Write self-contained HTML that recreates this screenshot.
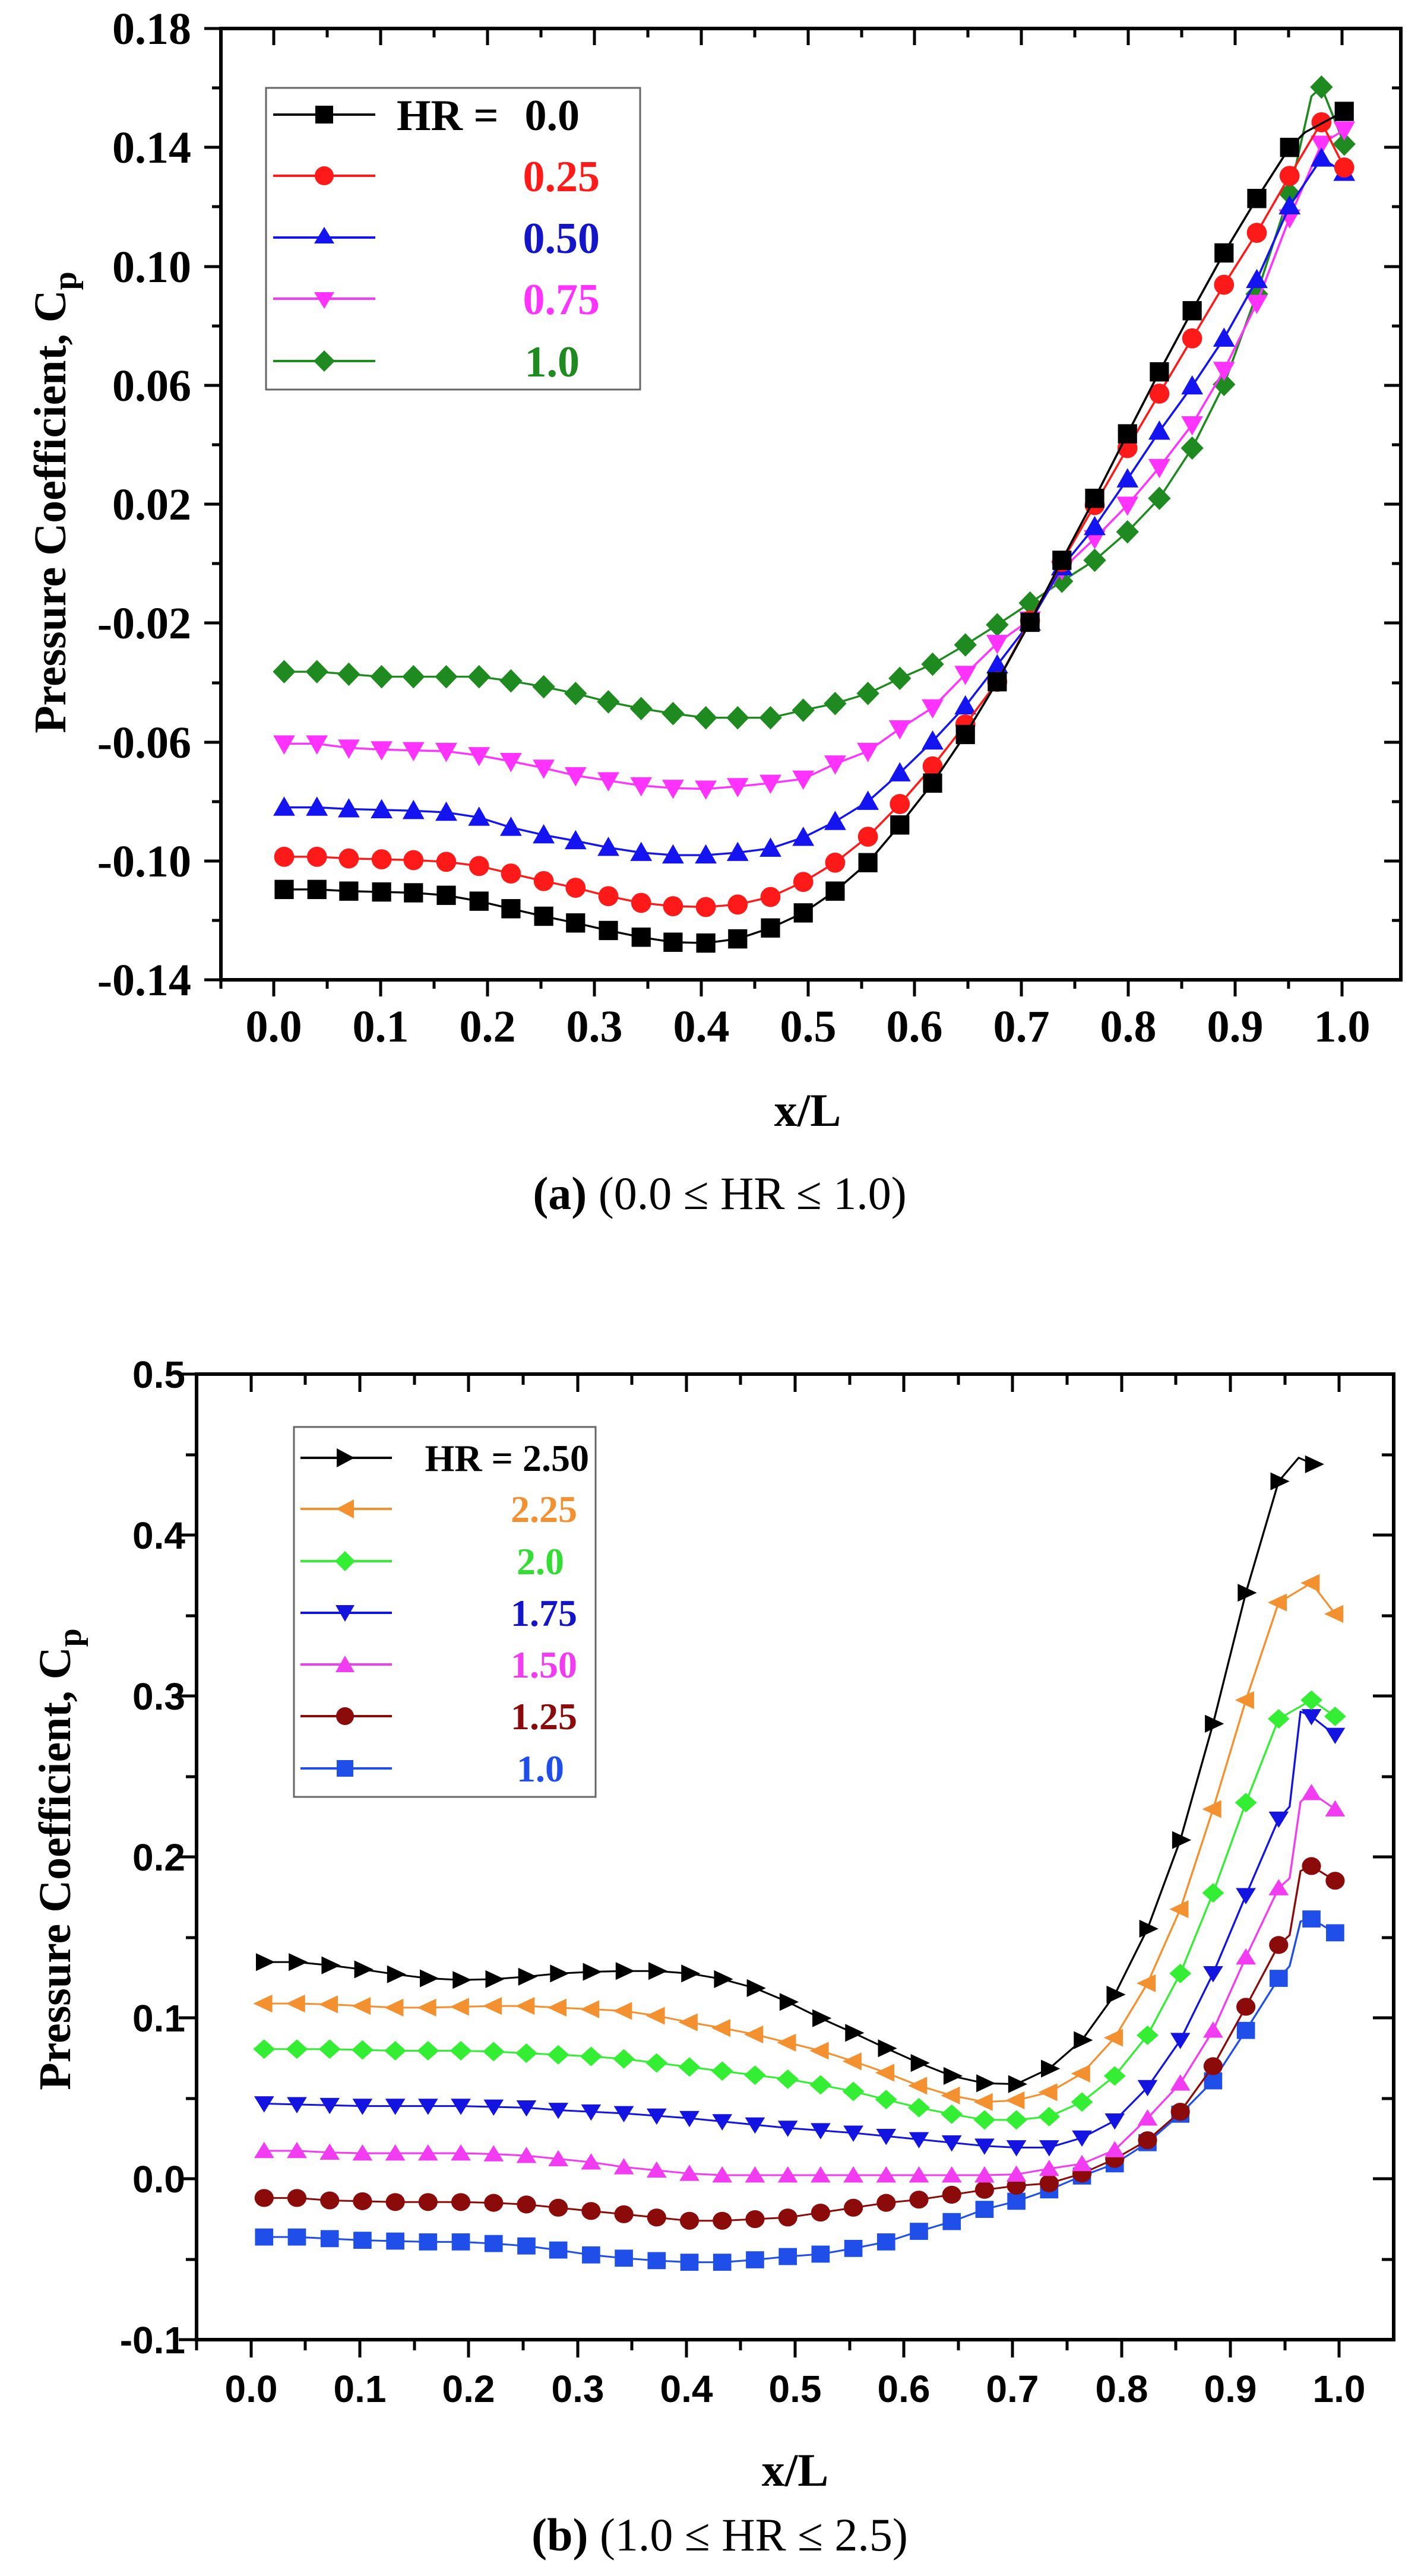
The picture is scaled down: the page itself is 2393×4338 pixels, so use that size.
<!DOCTYPE html>
<html><head><meta charset="utf-8"><style>html,body{margin:0;padding:0;background:#fff}svg{display:block}</style></head>
<body>
<svg xmlns="http://www.w3.org/2000/svg" width="2393" height="4338" viewBox="0 0 2393 4338">
<defs>
<marker id="mSqK" markerUnits="userSpaceOnUse" overflow="visible" markerWidth="1" markerHeight="1"><rect x="-10.5" y="-11.5" width="21" height="23" fill="#000"/></marker>
<marker id="mCiR" markerUnits="userSpaceOnUse" overflow="visible" markerWidth="1" markerHeight="1"><ellipse rx="11" ry="12" fill="#ff1a1a"/></marker>
<marker id="mTuB" markerUnits="userSpaceOnUse" overflow="visible" markerWidth="1" markerHeight="1"><polygon points="0,-13 12,10 -12,10" fill="#1414f0"/></marker>
<marker id="mTdM" markerUnits="userSpaceOnUse" overflow="visible" markerWidth="1" markerHeight="1"><polygon points="0,13 12,-10 -12,-10" fill="#ff33ff"/></marker>
<marker id="mDiG" markerUnits="userSpaceOnUse" overflow="visible" markerWidth="1" markerHeight="1"><polygon points="0,-14 12.5,0 0,14 -12.5,0" fill="#1f8a1f"/></marker>

<marker id="bRK" markerUnits="userSpaceOnUse" overflow="visible" markerWidth="1" markerHeight="1"><polygon points="-9,-11 12,0 -9,11" fill="#000"/></marker>
<marker id="bLO" markerUnits="userSpaceOnUse" overflow="visible" markerWidth="1" markerHeight="1"><polygon points="9,-11 -12,0 9,11" fill="#f39030"/></marker>
<marker id="bDG" markerUnits="userSpaceOnUse" overflow="visible" markerWidth="1" markerHeight="1"><polygon points="0,-12 12,0 0,12 -12,0" fill="#33ee33"/></marker>
<marker id="bTdB" markerUnits="userSpaceOnUse" overflow="visible" markerWidth="1" markerHeight="1"><polygon points="0,11 11,-9 -11,-9" fill="#1414e0"/></marker>
<marker id="bTuM" markerUnits="userSpaceOnUse" overflow="visible" markerWidth="1" markerHeight="1"><polygon points="0,-11 11,9 -11,9" fill="#f23cf2"/></marker>
<marker id="bCiN" markerUnits="userSpaceOnUse" overflow="visible" markerWidth="1" markerHeight="1"><ellipse rx="10.5" ry="11" fill="#8b0a0a"/></marker>
<marker id="bSqB" markerUnits="userSpaceOnUse" overflow="visible" markerWidth="1" markerHeight="1"><rect x="-10" y="-10.5" width="20" height="21" fill="#1f4fe8"/></marker>
</defs>

<!-- ================= PLOT A ================= -->
<rect x="372" y="48" width="1987" height="1602" fill="none" stroke="#000" stroke-width="6"/>
<g stroke="#000" stroke-width="5">
<path d="M461,1650v28M641,1650v28M821,1650v28M1001,1650v28M1181,1650v28M1361,1650v28M1540,1650v28M1720,1650v28M1900,1650v28M2080,1650v28M2260,1650v28"/>
<path d="M551,1650v15M731,1650v15M911,1650v15M1091,1650v15M1271,1650v15M1451,1650v15M1630,1650v15M1810,1650v15M1990,1650v15M2170,1650v15M372,1650v15"/>
<path d="M461,48v28M641,48v28M821,48v28M1001,48v28M1181,48v28M1361,48v28M1540,48v28M1720,48v28M1900,48v28M2080,48v28M2260,48v28"/>
<path d="M551,48v15M731,48v15M911,48v15M1091,48v15M1271,48v15M1451,48v15M1630,48v15M1810,48v15M1990,48v15M2170,48v15"/>
<path d="M372,48h-28M372,248h-28M372,449h-28M372,649h-28M372,849h-28M372,1049h-28M372,1250h-28M372,1450h-28M372,1650h-28"/>
<path d="M372,148h-15M372,348h-15M372,549h-15M372,749h-15M372,949h-15M372,1150h-15M372,1350h-15M372,1550h-15"/>
<path d="M2359,248h-28M2359,449h-28M2359,649h-28M2359,849h-28M2359,1049h-28M2359,1250h-28M2359,1450h-28"/>
<path d="M2359,148h-15M2359,348h-15M2359,549h-15M2359,749h-15M2359,949h-15M2359,1150h-15M2359,1350h-15M2359,1550h-15"/>
</g>
<g font-family="Liberation Serif, serif" font-weight="bold" font-size="76" fill="#000">
<g text-anchor="end">
<text x="322" y="74">0.18</text>
<text x="322" y="274">0.14</text>
<text x="322" y="475">0.10</text>
<text x="322" y="675">0.06</text>
<text x="322" y="875">0.02</text>
<text x="322" y="1075">-0.02</text>
<text x="322" y="1276">-0.06</text>
<text x="322" y="1476">-0.10</text>
<text x="322" y="1676">-0.14</text>
</g>
<g text-anchor="middle">
<text x="461" y="1754">0.0</text><text x="641" y="1754">0.1</text><text x="821" y="1754">0.2</text><text x="1001" y="1754">0.3</text><text x="1181" y="1754">0.4</text><text x="1361" y="1754">0.5</text><text x="1540" y="1754">0.6</text><text x="1720" y="1754">0.7</text><text x="1900" y="1754">0.8</text><text x="2080" y="1754">0.9</text><text x="2260" y="1754">1.0</text>
<text x="1360" y="1896" font-size="78">x/L</text>
</g>
<text transform="translate(110,846) rotate(-90)" text-anchor="middle" font-size="76">Pressure Coefficient, C<tspan dy="18" font-size="56">p</tspan></text>
</g>
<text x="1212" y="2036" text-anchor="middle" font-family="Liberation Serif, serif" font-size="78" fill="#000"><tspan font-weight="bold">(a)</tspan> (0.0 ≤ HR ≤ 1.0)</text>

<g transform="scale(1.5337,1.4104)" fill="none" stroke-width="2.4" stroke-linejoin="round">
<polyline stroke="#1f8a1f" points="312,802 348,802 383,805 419,808 454,808 490,808 526,808 561,813 597,820 632,828 668,838 704,846 739,852 775,857 810,857 846,857 882,848 917,840 953,828 988,810 1024,793 1060,770 1095,746 1131,720 1166,694 1202,669 1238,635 1273,595 1309,535 1344,459 1380,351 1416,231 1440,115 1451,104 1476,172"/>
<polyline stroke="none" marker-start="url(#mDiG)" marker-mid="url(#mDiG)" marker-end="url(#mDiG)" points="312,802 348,802 383,805 419,808 454,808 490,808 526,808 561,813 597,820 632,828 668,838 704,846 739,852 775,857 810,857 846,857 882,848 917,840 953,828 988,810 1024,793 1060,770 1095,746 1131,720 1166,694 1202,669 1238,635 1273,595 1309,535 1344,459 1380,351 1416,231 1451,104 1476,172"/>
<polyline stroke="#ff33ff" marker-start="url(#mTdM)" marker-mid="url(#mTdM)" marker-end="url(#mTdM)" points="312,888 348,888 383,893 419,895 454,896 490,897 526,902 561,909 597,917 632,926 668,932 704,938 739,941 775,942 810,939 846,935 882,930 917,912 953,897 988,870 1024,845 1060,805 1095,768 1131,740 1166,680 1202,643 1238,603 1273,558 1309,507 1344,442 1380,362 1416,260 1451,172 1476,155"/>
<polyline stroke="#1414f0" marker-start="url(#mTuB)" marker-mid="url(#mTuB)" marker-end="url(#mTuB)" points="312,964 348,964 383,966 419,967 454,968 490,970 526,976 561,988 597,997 632,1004 668,1012 704,1018 739,1021 775,1021 810,1018 846,1013 882,1000 917,981 953,957 988,923 1024,885 1060,843 1095,794 1131,743 1166,677 1202,629 1238,572 1273,515 1309,461 1344,404 1380,334 1416,246 1451,189 1476,206"/>
<polyline stroke="#ff1a1a" marker-start="url(#mCiR)" marker-mid="url(#mCiR)" marker-end="url(#mCiR)" points="312,1023 348,1023 383,1025 419,1026 454,1027 490,1029 526,1034 561,1043 597,1052 632,1060 668,1070 704,1078 739,1082 775,1083 810,1080 846,1071 882,1053 917,1030 953,999 988,960 1024,915 1060,865 1095,814 1131,741 1166,671 1202,603 1238,535 1273,470 1309,404 1344,340 1380,278 1416,210 1451,146 1476,200"/>
<polyline stroke="#000" points="312,1062 348,1062 383,1064 419,1065 454,1066 490,1069 526,1076 561,1085 597,1094 632,1102 668,1111 704,1119 739,1125 775,1126 810,1121 846,1108 882,1090 917,1064 953,1030 988,985 1024,935 1060,877 1095,814 1131,743 1166,669 1202,595 1238,518 1273,444 1309,371 1344,302 1380,237 1416,176 1433,158 1476,133"/>
<polyline stroke="none" marker-start="url(#mSqK)" marker-mid="url(#mSqK)" marker-end="url(#mSqK)" points="312,1062 348,1062 383,1064 419,1065 454,1066 490,1069 526,1076 561,1085 597,1094 632,1102 668,1111 704,1119 739,1125 775,1126 810,1121 846,1108 882,1090 917,1064 953,1030 988,985 1024,935 1060,877 1095,814 1131,743 1166,669 1202,595 1238,518 1273,444 1309,371 1344,302 1380,237 1416,176 1476,133"/>
</g>

<!-- legend a -->
<rect x="448" y="148" width="630" height="508" fill="#fff" stroke="#666" stroke-width="3"/>
<g stroke-width="4">
<line x1="460" y1="193" x2="632" y2="193" stroke="#000"/><rect x="531" y="178" width="30" height="30" fill="#000"/>
<line x1="460" y1="296" x2="632" y2="296" stroke="#ff1a1a"/><circle cx="546" cy="296" r="16" fill="#ff1a1a"/>
<line x1="460" y1="400" x2="632" y2="400" stroke="#1414f0"/><polygon points="546,382 563,410 529,410" fill="#1414f0"/>
<line x1="460" y1="503" x2="632" y2="503" stroke="#ff33ff"/><polygon points="546,520 563,492 529,492" fill="#ff33ff"/>
<line x1="460" y1="608" x2="632" y2="608" stroke="#1f8a1f"/><polygon points="546,590 564,608 546,626 528,608" fill="#1f8a1f"/>
</g>
<g font-family="Liberation Serif, serif" font-weight="bold" font-size="74">
<text x="668" y="219" fill="#000">HR =</text><text x="976" y="219" text-anchor="end" fill="#000">0.0</text>
<text x="1010" y="322" text-anchor="end" fill="#ff1a1a">0.25</text>
<text x="1010" y="426" text-anchor="end" fill="#1414c8">0.50</text>
<text x="1010" y="529" text-anchor="end" fill="#ff33ff">0.75</text>
<text x="976" y="634" text-anchor="end" fill="#1f8a1f">1.0</text>
</g>

<!-- ================= PLOT B ================= -->
<rect x="331" y="2314" width="2016" height="1626" fill="none" stroke="#000" stroke-width="6"/>
<g stroke="#000" stroke-width="5">
<path d="M423,3940v30M606,3940v30M789,3940v30M973,3940v30M1156,3940v30M1339,3940v30M1522,3940v30M1705,3940v30M1889,3940v30M2072,3940v30M2255,3940v30"/>
<path d="M331,3940v18M514,3940v18M698,3940v18M881,3940v18M1064,3940v18M1247,3940v18M1431,3940v18M1614,3940v18M1797,3940v18M1980,3940v18M2164,3940v18"/>
<path d="M423,2314v30M606,2314v30M789,2314v30M973,2314v30M1156,2314v30M1339,2314v30M1522,2314v30M1705,2314v30M1889,2314v30M2072,2314v30M2255,2314v30"/>
<path d="M514,2314v18M698,2314v18M881,2314v18M1064,2314v18M1247,2314v18M1431,2314v18M1614,2314v18M1797,2314v18M1980,2314v18M2164,2314v18"/>
<path d="M331,2314h-30M331,2585h-30M331,2856h-30M331,3127h-30M331,3398h-30M331,3669h-30M331,3940h-30"/>
<path d="M331,2450h-18M331,2721h-18M331,2992h-18M331,3263h-18M331,3534h-18M331,3805h-18"/>
<path d="M2347,2585h-35M2347,2856h-35M2347,3127h-35M2347,3398h-35M2347,3669h-35"/>
<path d="M2347,2450h-20M2347,2721h-20M2347,2992h-20M2347,3263h-20M2347,3534h-20M2347,3805h-20"/>
</g>
<g font-family="Liberation Sans, Arial, sans-serif" font-weight="bold" font-size="64" fill="#000">
<g text-anchor="end">
<text x="312" y="2337">0.5</text>
<text x="312" y="2608">0.4</text>
<text x="312" y="2879">0.3</text>
<text x="312" y="3150">0.2</text>
<text x="312" y="3421">0.1</text>
<text x="312" y="3692">0.0</text>
<text x="312" y="3963">-0.1</text>
</g>
<g text-anchor="middle">
<text x="423" y="4045">0.0</text><text x="606" y="4045">0.1</text><text x="789" y="4045">0.2</text><text x="973" y="4045">0.3</text><text x="1156" y="4045">0.4</text><text x="1339" y="4045">0.5</text><text x="1522" y="4045">0.6</text><text x="1705" y="4045">0.7</text><text x="1889" y="4045">0.8</text><text x="2072" y="4045">0.9</text><text x="2255" y="4045">1.0</text>
</g>
</g>
<g font-family="Liberation Serif, serif" font-weight="bold" fill="#000">
<text x="1339" y="4186" text-anchor="middle" font-size="78">x/L</text>
<text transform="translate(118,3131) rotate(-90)" text-anchor="middle" font-size="76">Pressure Coefficient, C<tspan dy="18" font-size="56">p</tspan></text>
</g>
<text x="1212" y="4295" text-anchor="middle" font-family="Liberation Serif, serif" font-size="78" fill="#000"><tspan font-weight="bold">(b)</tspan> (1.0 ≤ HR ≤ 2.5)</text>

<g transform="translate(0,2200) scale(1.5337,1.3699)" fill="none" stroke-width="2.2" stroke-linejoin="round">
<polyline stroke="#1f4fe8" points="290,1144 326,1144 362,1146 398,1148 434,1149 470,1150 506,1150 542,1152 578,1155 613,1160 649,1166 685,1170 721,1173 757,1175 793,1175 829,1172 865,1168 901,1165 937,1158 973,1150 1009,1137 1045,1125 1081,1110 1116,1100 1152,1086 1188,1069 1224,1054 1260,1028 1296,993 1332,952 1368,890 1404,826 1416,811 1428,756 1440,753 1466,770"/>
<polyline stroke="none" marker-start="url(#bSqB)" marker-mid="url(#bSqB)" marker-end="url(#bSqB)" points="290,1144 326,1144 362,1146 398,1148 434,1149 470,1150 506,1150 542,1152 578,1155 613,1160 649,1166 685,1170 721,1173 757,1175 793,1175 829,1172 865,1168 901,1165 937,1158 973,1150 1009,1137 1045,1125 1081,1110 1116,1100 1152,1086 1188,1069 1224,1054 1260,1028 1296,993 1332,952 1368,890 1404,826 1440,753 1466,770"/>
<polyline stroke="#8b0a0a" points="290,1096 326,1096 362,1099 398,1100 434,1101 470,1101 506,1101 542,1102 578,1104 613,1108 649,1112 685,1116 721,1120 757,1124 793,1124 829,1122 865,1120 901,1114 937,1108 973,1102 1009,1098 1045,1092 1081,1086 1116,1081 1152,1078 1188,1066 1224,1048 1260,1025 1296,990 1332,934 1368,861 1404,785 1416,773 1428,694 1440,688 1466,706"/>
<polyline stroke="none" marker-start="url(#bCiN)" marker-mid="url(#bCiN)" marker-end="url(#bCiN)" points="290,1096 326,1096 362,1099 398,1100 434,1101 470,1101 506,1101 542,1102 578,1104 613,1108 649,1112 685,1116 721,1120 757,1124 793,1124 829,1122 865,1120 901,1114 937,1108 973,1102 1009,1098 1045,1092 1081,1086 1116,1081 1152,1078 1188,1066 1224,1048 1260,1025 1296,990 1332,934 1368,861 1404,785 1440,688 1466,706"/>
<polyline stroke="#f23cf2" points="290,1038 326,1038 362,1040 398,1041 434,1041 470,1041 506,1041 542,1042 578,1044 613,1048 649,1052 685,1058 721,1062 757,1066 793,1068 829,1068 865,1068 901,1068 937,1068 973,1068 1009,1068 1045,1068 1081,1068 1116,1067 1152,1060 1188,1054 1224,1037 1260,998 1296,955 1332,890 1368,800 1404,715 1416,703 1428,609 1440,598 1466,618"/>
<polyline stroke="none" marker-start="url(#bTuM)" marker-mid="url(#bTuM)" marker-end="url(#bTuM)" points="290,1038 326,1038 362,1040 398,1041 434,1041 470,1041 506,1041 542,1042 578,1044 613,1048 649,1052 685,1058 721,1062 757,1066 793,1068 829,1068 865,1068 901,1068 937,1068 973,1068 1009,1068 1045,1068 1081,1068 1116,1067 1152,1060 1188,1054 1224,1037 1260,998 1296,955 1332,890 1368,800 1404,715 1440,598 1466,618"/>
<polyline stroke="#1414e0" points="290,980 326,981 362,982 398,983 434,983 470,983 506,983 542,984 578,985 613,988 649,990 685,992 721,995 757,998 793,1002 829,1006 865,1010 901,1013 937,1016 973,1020 1009,1024 1045,1028 1081,1032 1116,1034 1152,1034 1188,1022 1224,1001 1260,960 1296,902 1332,820 1368,724 1404,630 1416,615 1428,498 1440,504 1466,527"/>
<polyline stroke="none" marker-start="url(#bTdB)" marker-mid="url(#bTdB)" marker-end="url(#bTdB)" points="290,980 326,981 362,982 398,983 434,983 470,983 506,983 542,984 578,985 613,988 649,990 685,992 721,995 757,998 793,1002 829,1006 865,1010 901,1013 937,1016 973,1020 1009,1024 1045,1028 1081,1032 1116,1034 1152,1034 1188,1022 1224,1001 1260,960 1296,902 1332,820 1368,724 1404,630 1440,504 1466,527"/>
<polyline stroke="#33ee33" marker-start="url(#bDG)" marker-mid="url(#bDG)" marker-end="url(#bDG)" points="290,913 326,913 362,913 398,914 434,915 470,915 506,915 542,916 578,918 613,920 649,922 685,925 721,930 757,935 793,940 829,945 865,950 901,957 937,965 973,975 1009,985 1045,993 1081,1000 1116,1000 1152,996 1188,978 1224,946 1260,896 1296,820 1332,721 1368,610 1404,507 1440,484 1466,504"/>
<polyline stroke="#f39030" marker-start="url(#bLO)" marker-mid="url(#bLO)" marker-end="url(#bLO)" points="290,857 326,857 362,858 398,860 434,862 470,862 506,861 542,860 578,860 613,862 649,864 685,866 721,872 757,880 793,887 829,895 865,905 901,915 937,928 973,942 1009,958 1045,970 1081,978 1116,976 1152,966 1188,943 1224,899 1260,832 1296,741 1332,618 1368,484 1404,364 1440,340 1466,378"/>
<polyline stroke="#000" points="290,806 326,806 362,810 398,815 434,821 470,826 506,828 542,827 578,824 613,820 649,818 685,817 721,817 757,820 793,827 829,838 865,855 901,875 937,893 973,912 1009,930 1045,946 1081,955 1116,956 1152,937 1188,902 1224,846 1260,765 1296,656 1332,513 1368,352 1404,215 1426,186 1442,194"/>
<polyline stroke="none" marker-start="url(#bRK)" marker-mid="url(#bRK)" marker-end="url(#bRK)" points="290,806 326,806 362,810 398,815 434,821 470,826 506,828 542,827 578,824 613,820 649,818 685,817 721,817 757,820 793,827 829,838 865,855 901,875 937,893 973,912 1009,930 1045,946 1081,955 1116,956 1152,937 1188,902 1224,846 1260,765 1296,656 1332,513 1368,352 1404,215 1442,194"/>
</g>

<!-- legend b -->
<rect x="495" y="2403" width="508" height="623" fill="#fff" stroke="#666" stroke-width="3"/>
<g stroke-width="4">
<line x1="506" y1="2455" x2="660" y2="2455" stroke="#000"/><polygon points="567,2439 597,2455 567,2471" fill="#000"/>
<line x1="506" y1="2541" x2="660" y2="2541" stroke="#f39030"/><polygon points="596,2525 566,2541 596,2557" fill="#f39030"/>
<line x1="506" y1="2629" x2="660" y2="2629" stroke="#33ee33"/><polygon points="581,2612 598,2629 581,2646 564,2629" fill="#33ee33"/>
<line x1="506" y1="2716" x2="660" y2="2716" stroke="#1414e0"/><polygon points="581,2731 597,2703 565,2703" fill="#1414e0"/>
<line x1="506" y1="2803" x2="660" y2="2803" stroke="#f23cf2"/><polygon points="581,2788 597,2816 565,2816" fill="#f23cf2"/>
<line x1="506" y1="2890" x2="660" y2="2890" stroke="#8b0a0a"/><circle cx="581" cy="2890" r="15" fill="#8b0a0a"/>
<line x1="506" y1="2978" x2="660" y2="2978" stroke="#1f4fe8"/><rect x="567" y="2964" width="28" height="28" fill="#1f4fe8"/>
</g>
<g font-family="Liberation Serif, serif" font-weight="bold" font-size="64" text-anchor="end">
<text x="992" y="2477" fill="#000">HR = 2.50</text>
<text x="972" y="2563" fill="#f39030">2.25</text>
<text x="950" y="2651" fill="#33dd33">2.0</text>
<text x="972" y="2738" fill="#1414c8">1.75</text>
<text x="972" y="2825" fill="#f23cf2">1.50</text>
<text x="972" y="2912" fill="#8b0a0a">1.25</text>
<text x="950" y="3000" fill="#1f4fe8">1.0</text>
</g>
</svg>
</body></html>
